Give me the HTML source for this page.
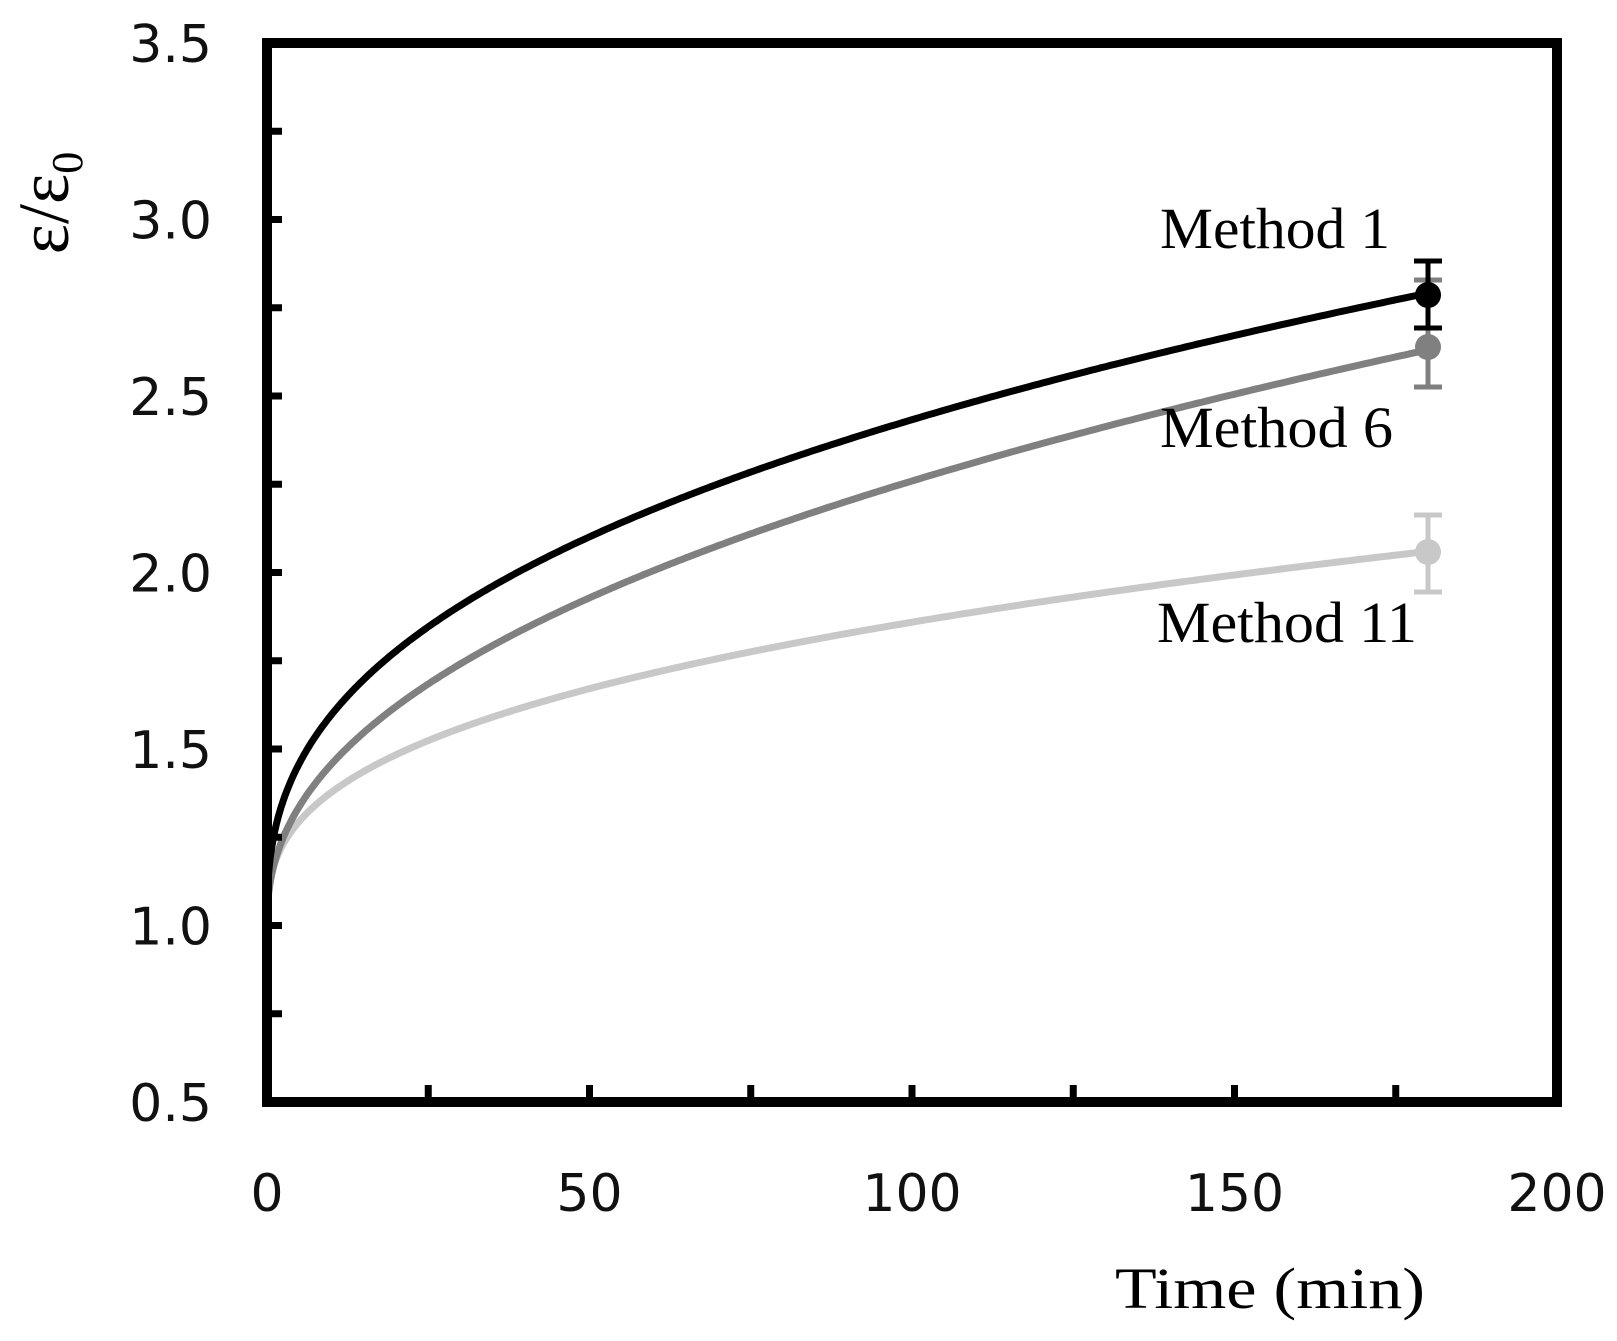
<!DOCTYPE html>
<html><head><meta charset="utf-8"><style>
html,body{margin:0;padding:0;background:#fff;}
svg{display:block;}
</style></head><body>
<svg id="s" width="1617" height="1341" viewBox="0 0 1617 1341" xmlns="http://www.w3.org/2000/svg">
<g id="curves" fill="none" stroke-width="7" stroke-linejoin="round" stroke-linecap="round"></g>
<rect x="267" y="43" width="1290" height="1059" fill="none" stroke="#000" stroke-width="10"/>
<g id="ticks" stroke="#000" stroke-width="7"></g>
<g font-family="'DejaVu Sans','Liberation Sans',sans-serif" font-size="52" fill="#111" text-anchor="end" id="ylab"></g>
<g font-family="'DejaVu Sans','Liberation Sans',sans-serif" font-size="52" fill="#111" text-anchor="middle" id="xlab"></g>
<g font-family="'Liberation Serif',serif" font-size="58" fill="#000">
<text x="1160" y="248" textLength="230" lengthAdjust="spacingAndGlyphs">Method 1</text>
<text x="1160" y="447" textLength="233" lengthAdjust="spacingAndGlyphs">Method 6</text>
<text x="1157" y="642" textLength="260" lengthAdjust="spacingAndGlyphs">Method 11</text>
<text x="1115" y="1308" textLength="310" lengthAdjust="spacingAndGlyphs">Time (min)</text>
</g>
<text transform="translate(68,203) rotate(-90)" text-anchor="middle" font-family="'Liberation Serif',serif" font-size="72" fill="#000">ε/ε<tspan font-size="44" dy="14">0</tspan></text>
<g id="err" stroke-width="5"></g>
</svg>
<script>
var X=function(t){return 267+t*6.45}, Y=function(v){return 43+(3.5-v)*353};
var ns="http://www.w3.org/2000/svg";
function el(p,tag,a){var e=document.createElementNS(ns,tag);for(var k in a)e.setAttribute(k,a[k]);document.getElementById(p).appendChild(e);return e;}
var series=[["#c8c8c8",0.166,0.357],["#808080",0.166,0.44],["#000",0.249,0.38]];
series.forEach(function(s){var d="";for(var i=0;i<=400;i++){var t=180*Math.pow(i/400,2);var v=1+s[1]*Math.pow(t,s[2]);d+=(i?"L":"M")+X(t).toFixed(1)+","+Y(v).toFixed(1);}
el("curves","path",{d:d,stroke:s[0]});});
for(var v=0.75;v<3.5;v+=0.25){var y=Y(v);el("ticks","line",{x1:272,x2:282,y1:y,y2:y});}
for(var t=25;t<200;t+=25){var x=X(t);el("ticks","line",{x1:x,x2:x,y1:1097,y2:1085});}
["0.5","1.0","1.5","2.0","2.5","3.0","3.5"].forEach(function(l,i){var e=el("ylab","text",{x:212,y:Y(0.5+i*0.5)+19});e.textContent=l;});
["0","50","100","150","200"].forEach(function(l,i){var e=el("xlab","text",{x:X(i*50),y:1211});e.textContent=l;});
[["#c8c8c8",552,515,592],["#808080",347,280,387],["#000",295,261,328]].forEach(function(s){var x=1428;
el("err","line",{x1:x,x2:x,y1:s[2],y2:s[3],stroke:s[0]});
el("err","line",{x1:x-14,x2:x+14,y1:s[2],y2:s[2],stroke:s[0]});
el("err","line",{x1:x-14,x2:x+14,y1:s[3],y2:s[3],stroke:s[0]});
el("err","circle",{cx:x,cy:s[1],r:13,fill:s[0],stroke:"none"});});
</script>
</body></html>
